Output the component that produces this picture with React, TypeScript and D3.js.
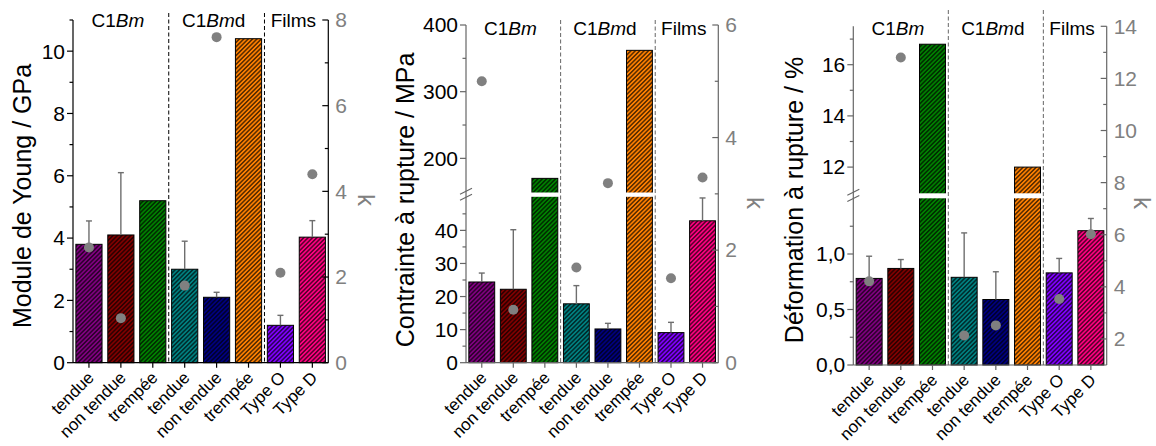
import React from 'react';
import * as d3 from 'd3';

// ---------- DATA ----------
const categories = ['tendue', 'non tendue', 'trempée', 'tendue', 'non tendue', 'trempée', 'Type O', 'Type D'];
const barColors = ['#800080', '#800000', '#008000', '#008080', '#000080', '#FF8000', '#8000FF', '#FF0080'];
const groups = [
  { label: ['C1', 'Bm', ''], from: 0, to: 2 },
  { label: ['C1', 'Bm', 'd'], from: 3, to: 5 },
  { label: ['Films', '', ''], from: 6, to: 7 },
];

const modulusValues = [3.8, 4.1, 5.2, 3.0, 2.1, 10.4, 1.2, 4.03];
const modulusErrors = [0.75, 2.0, null, 0.9, 0.16, null, 0.32, 0.53];
const modulusK = [2.69, 1.04, null, 1.8, 7.6, null, 2.1, 4.4];

const stressValues = [24.4, 22.2, 170, 17.8, 10.2, 362, 9.1, 42.9];
const stressErrors = [2.7, 18.0, null, 5.5, 1.7, null, 3.1, 6.9];
const stressK = [5.0, 0.94, null, 1.69, 3.19, null, 1.5, 3.29];

const strainValues = [0.78, 0.87, 16.8, 0.79, 0.59, 12.0, 0.83, 1.21];
const strainErrors = [0.2, 0.08, null, 0.4, 0.25, null, 0.13, 0.11];
const strainK = [4.21, 12.8, null, 2.13, 2.52, null, 3.53, 6.02];

const modulusTicks = [0, 2, 4, 6, 8, 10];
const modulusMinor = [1, 3, 5, 7, 9, 11];
const stressLowTicks = [0, 10, 20, 30, 40];
const stressLowMinor = [5, 15, 25, 35, 45];
const stressHighTicks = [200, 300, 400];
const stressHighMinor = [250, 350];
const strainLowTicks = [0, 0.5, 1.0];
const strainLowMinor = [0.25, 0.75, 1.25];
const strainHighTicks = [12, 14, 16];
const strainHighMinor = [13, 15, 17];

const k1Ticks = [0, 2, 4, 6, 8];
const k1Minor = [1, 3, 5, 7];
const k2Ticks = [0, 2, 4, 6];
const k2Minor = [1, 3, 5];
const k3Ticks = [2, 4, 6, 8, 10, 12, 14];
const k3Minor = [3, 5, 7, 9, 11, 13];

// ---------- LAYOUT ----------
const FONT = '"Liberation Sans", Arial, sans-serif';
const GRAY = '#808080';

type Seg = { domain: [number, number]; range: [number, number]; ticks: number[]; minor: number[] };

type PanelCfg = {
  id: string;
  left: number;
  right: number;
  bottom: number;
  top: number;
  segs: Seg[];
  gap?: [number, number];
  values: number[];
  errors: (number | null)[];
  kvals: (number | null)[];
  kDomain: [number, number];
  kTicks: number[];
  kMinor: number[];
  fmt: (v: number) => string;
  axisColor: string;
  title: string;
  titleX: number;
  titleY: number;
  kX: number;
  kY: number;
  groupY: number;
  dashTop: number;
};

const panels: PanelCfg[] = [
  {
    id: 'p1', left: 73, right: 328.3, bottom: 362.7, top: 20,
    segs: [{ domain: [0, 11], range: [362.7, 20], ticks: modulusTicks, minor: modulusMinor }],
    values: modulusValues, errors: modulusErrors, kvals: modulusK,
    kDomain: [0, 8], kTicks: k1Ticks, kMinor: k1Minor,
    fmt: (v) => String(v), axisColor: '#000',
    title: 'Module de Young / GPa', titleX: 31, titleY: 196, kX: 358, kY: 200, groupY: 27, dashTop: 13,
  },
  {
    id: 'p2', left: 466, right: 718.3, bottom: 362.7, top: 25,
    segs: [
      { domain: [0, 50], range: [362.7, 197.3], ticks: stressLowTicks, minor: stressLowMinor },
      { domain: [150, 400], range: [191.7, 25], ticks: stressHighTicks, minor: stressHighMinor },
    ],
    gap: [192.5, 196.8],
    values: stressValues, errors: stressErrors, kvals: stressK,
    kDomain: [0, 6], kTicks: k2Ticks, kMinor: k2Minor,
    fmt: (v) => String(v), axisColor: '#666',
    title: 'Contrainte à rupture / MPa', titleX: 414, titleY: 200, kX: 747, kY: 203, groupY: 35, dashTop: 20,
  },
  {
    id: 'p3', left: 853.3, right: 1106.7, bottom: 365, top: 26.3,
    segs: [
      { domain: [0, 1.5], range: [365, 198.5], ticks: strainLowTicks, minor: strainLowMinor },
      { domain: [11, 17.5], range: [192.7, 26.3], ticks: strainHighTicks, minor: strainHighMinor },
    ],
    gap: [193.3, 198.3],
    values: strainValues, errors: strainErrors, kvals: strainK,
    kDomain: [1, 14], kTicks: k3Ticks, kMinor: k3Minor,
    fmt: (v) => (v < 2 ? d3.format('.1f')(v).replace('.', ',') : String(v)), axisColor: '#666',
    title: 'Déformation à rupture / %', titleX: 803, titleY: 200, kX: 1134, kY: 203, groupY: 35, dashTop: 10,
  },
];

function Panel({ cfg }: { cfg: PanelCfg }) {
  const x = d3.scaleBand<number>()
    .domain(d3.range(categories.length))
    .range([cfg.left, cfg.right])
    .paddingInner(0.18)
    .paddingOuter(0.09);
  const scales = cfg.segs.map((s) => d3.scaleLinear().domain(s.domain).range(s.range));
  const y = (v: number) => {
    if (scales.length === 1 || v <= cfg.segs[0].domain[1]) return scales[0](v);
    return scales[1](Math.max(v, cfg.segs[1].domain[0]));
  };
  const k = d3.scaleLinear().domain(cfg.kDomain).range([cfg.bottom, cfg.top]);
  const bw = x.bandwidth();
  const c = (i: number) => (x(i) as number) + bw / 2;
  const ac = cfg.axisColor;

  const dashXs = [
    (c(2) + c(3)) / 2,
    (c(5) + c(6)) / 2,
  ];

  return (
    <g>
      {/* bars */}
      {cfg.values.map((v, i) => (
        <rect key={'b' + i} x={x(i)} y={y(v)} width={bw} height={cfg.bottom - y(v)}
          fill={`url(#${cfg.id}-h${i})`} stroke="#000" strokeWidth={1} />
      ))}
      {/* gap for broken axis */}
      {cfg.gap && cfg.values.map((v, i) => v > cfg.segs[0].domain[1] ? (
        <rect key={'g' + i} x={(x(i) as number) - 1.5} y={cfg.gap![0]} width={bw + 3}
          height={cfg.gap![1] - cfg.gap![0]} fill="#fff" />
      ) : null)}
      {/* error bars */}
      {cfg.errors.map((e, i) => e == null ? null : (
        <g key={'e' + i} stroke="#6e6e6e" strokeWidth={1.4}>
          <line x1={c(i)} x2={c(i)} y1={y(cfg.values[i])} y2={y(cfg.values[i] + e)} />
          <line x1={c(i) - 3} x2={c(i) + 3} y1={y(cfg.values[i] + e)} y2={y(cfg.values[i] + e)} />
        </g>
      ))}
      {/* separators */}
      {dashXs.map((dx, i) => (
        <line key={'d' + i} x1={dx} x2={dx} y1={cfg.dashTop} y2={cfg.bottom}
          stroke={ac} strokeWidth={1} strokeDasharray="4,2.5" />
      ))}
      {/* k dots */}
      {cfg.kvals.map((kv, i) => kv == null ? null : (
        <circle key={'k' + i} cx={c(i)} cy={k(kv)} r={5} fill={GRAY} />
      ))}
      {/* left axis */}
      <line x1={cfg.left} x2={cfg.left} y1={cfg.top} y2={cfg.bottom} stroke={ac} strokeWidth={1.2} />
      {cfg.segs.map((s, si) => (
        <g key={'s' + si}>
          {s.ticks.map((t) => (
            <g key={'t' + t}>
              <line x1={cfg.left - 6} x2={cfg.left} y1={scales[si](t)} y2={scales[si](t)} stroke={ac} strokeWidth={1.2} />
              <text x={cfg.left - 8} y={scales[si](t)} dy="0.35em" textAnchor="end"
                fontFamily={FONT} fontSize={21} fill="#000">{cfg.fmt(t)}</text>
            </g>
          ))}
          {s.minor.map((t) => (
            <line key={'m' + t} x1={cfg.left - 3.5} x2={cfg.left} y1={scales[si](t)} y2={scales[si](t)} stroke={ac} strokeWidth={1.2} />
          ))}
        </g>
      ))}
      {cfg.gap && (
        <g stroke={ac} strokeWidth={1.2}>
          <line x1={cfg.left - 6} y1={cfg.segs[1].range[0] + 2.5} x2={cfg.left + 6} y2={cfg.segs[1].range[0] - 3.5} />
          <line x1={cfg.left - 6} y1={cfg.segs[0].range[1] + 3} x2={cfg.left + 6} y2={cfg.segs[0].range[1] - 3} />
        </g>
      )}
      {/* right axis */}
      <line x1={cfg.right} x2={cfg.right} y1={cfg.top} y2={cfg.bottom} stroke={ac} strokeWidth={1.2} />
      {cfg.kTicks.map((t) => (
        <g key={'kt' + t}>
          <line x1={cfg.right - 6} x2={cfg.right} y1={k(t)} y2={k(t)} stroke={ac} strokeWidth={1.2} />
          <text x={cfg.right + 7} y={k(t)} dy="0.35em" textAnchor="start"
            fontFamily={FONT} fontSize={21} fill={GRAY}>{t}</text>
        </g>
      ))}
      {cfg.kMinor.map((t) => (
        <line key={'km' + t} x1={cfg.right - 3.5} x2={cfg.right} y1={k(t)} y2={k(t)} stroke={ac} strokeWidth={1.2} />
      ))}
      {/* bottom axis */}
      <line x1={cfg.left} x2={cfg.right} y1={cfg.bottom} y2={cfg.bottom} stroke={ac} strokeWidth={1.2} />
      {categories.map((cat, i) => (
        <g key={'c' + i}>
          <line x1={c(i)} x2={c(i)} y1={cfg.bottom} y2={cfg.bottom + 5} stroke={ac} strokeWidth={1.2} />
          <text transform={`translate(${c(i) + 6},${cfg.bottom + 16}) rotate(-45)`} textAnchor="end"
            fontFamily={FONT} fontSize={17} fill="#000">{cat}</text>
        </g>
      ))}
      {/* group labels */}
      {groups.map((g, gi) => (
        <text key={'gl' + gi} x={(c(g.from) + c(g.to)) / 2 - 3} y={cfg.groupY} textAnchor="middle"
          fontFamily={FONT} fontSize={19} fill="#000">
          {g.label[0]}
          {g.label[1] && <tspan fontStyle="italic">{g.label[1]}</tspan>}
          {g.label[2] && <tspan>{g.label[2]}</tspan>}
        </text>
      ))}
      {/* titles */}
      <text transform={`translate(${cfg.titleX},${cfg.titleY}) rotate(-90)`} textAnchor="middle"
        fontFamily={FONT} fontSize={25} fill="#000">{cfg.title}</text>
      <text transform={`translate(${cfg.kX},${cfg.kY}) rotate(90)`} textAnchor="middle"
        fontFamily={FONT} fontSize={24} fill={GRAY}>k</text>
    </g>
  );
}

export default function App() {
  return (
    <svg width={1156} height={446} style={{ position: 'absolute', left: 0, top: 0, background: '#fff' }}>
      <defs>
        {panels.map((p) => barColors.map((col, i) => (
          <pattern key={p.id + i} id={`${p.id}-h${i}`} patternUnits="userSpaceOnUse" width={3.1} height={10}
            patternTransform="rotate(45)">
            <rect width={3.1} height={10} fill={col} />
            <line x1={1.55} x2={1.55} y1={0} y2={10} stroke="#000" strokeWidth={1} />
          </pattern>
        )))}
      </defs>
      {panels.map((p) => <Panel key={p.id} cfg={p} />)}
    </svg>
  );
}
